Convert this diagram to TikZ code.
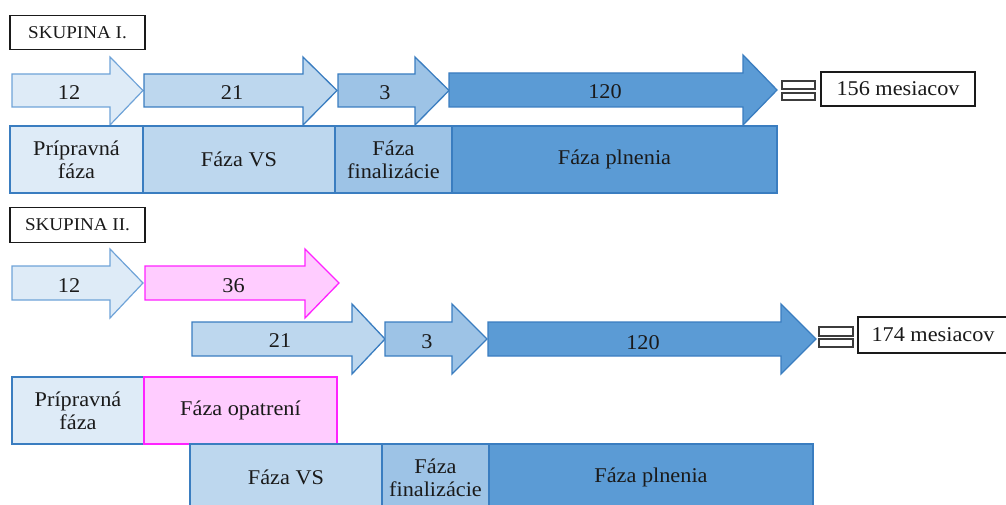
\documentclass[tikz,border=0pt]{standalone}
\usepackage{fontspec}
\setmainfont[FakeStretch=1.06]{Liberation Serif}
\definecolor{cA}{HTML}{DEEBF7}
\definecolor{cB}{HTML}{BDD7EE}
\definecolor{cC}{HTML}{9DC3E6}
\definecolor{cD}{HTML}{5B9BD5}
\definecolor{lineB}{HTML}{3A7DC0}
\definecolor{lineL}{HTML}{6FA3D8}
\definecolor{pinkF}{HTML}{FFCCFF}
\definecolor{pinkL}{HTML}{FF22FF}
\definecolor{txt}{HTML}{1A1A1A}
\newcommand\blockarr[8]{%
  \path[#1] (#2,#5) -- (#3,#5) -- (#3,#7) -- (#4,{(#5+#6)/2}) -- (#3,#8) -- (#3,#6) -- (#2,#6) -- cycle;}
\tikzset{
  arrA/.style={fill=cA,draw=lineL,line width=1.2pt,line join=miter},
  arrB/.style={fill=cB,draw=lineB,line width=1.3pt,line join=miter},
  arrC/.style={fill=cC,draw=lineB,line width=1.3pt,line join=miter},
  arrD/.style={fill=cD,draw=lineB,line width=1.3pt,line join=miter},
  arrP/.style={fill=pinkF,draw=pinkL,line width=1.3pt,line join=miter},
  lbl/.style={text=txt,inner sep=0pt,font=\fontsize{21}{23}\selectfont,align=center},
  bar/.style={draw=lineB,line width=1.3pt,text=txt,inner sep=0pt,font=\fontsize{21}{23}\selectfont,align=center},
  grp/.style={draw=txt,line width=1.8pt,fill=white,inner sep=0pt,text=txt,font=\fontsize{18}{21}\selectfont},
  total/.style={draw=txt,line width=1.4pt,fill=white,inner sep=0pt,text=txt,font=\fontsize{21}{23}\selectfont},
  eqbar/.style={draw=txt!85,line width=1.6pt,fill=white}
}
\begin{document}
\begin{tikzpicture}[x=1pt,y=-1pt]
\useasboundingbox (0,0) rectangle (1006,505);
\clip (0,0) rectangle (1006,505);
% ---------- Group I ----------
\node[grp,minimum width=135pt,minimum height=34pt] (s1) at (77.5,32.5) {SKUPINA I.};
\blockarr{arrA}{12}{110}{143}{74}{107}{57}{125}
\blockarr{arrB}{144}{303}{337}{74}{107}{57}{125}
\blockarr{arrC}{338}{415}{449}{74}{107}{57}{125}
\blockarr{arrD}{449}{743}{777}{73}{107}{55}{125}
\node[lbl] (g1a) at (69,93) {12};
\node[lbl] (g1b) at (232,93) {21};
\node[lbl] (g1c) at (385,93) {3};
\node[lbl] (g1d) at (605,92) {120};
\draw[eqbar] (782,81) rectangle (815,89);
\draw[eqbar] (782,93) rectangle (815,100);
\node[total,minimum width=154pt,minimum height=34pt] (t1) at (898,89) {156 mesiacov};
\node[bar,fill=cA,minimum width=133pt,minimum height=67pt] (g1p) at (76.5,159.5) {Prípravná\\fáza};
\node[bar,fill=cB,minimum width=192pt,minimum height=67pt] (g1v) at (239,159.5) {Fáza VS};
\node[bar,fill=cC,minimum width=117pt,minimum height=67pt] (g1f) at (393.5,159.5) {Fáza\\finalizácie};
\node[bar,fill=cD,minimum width=325pt,minimum height=67pt] (g1n) at (614.5,159.5) {Fáza plnenia};
% ---------- Group II ----------
\node[grp,minimum width=135pt,minimum height=35pt] (s2) at (77.5,225) {SKUPINA II.};
\blockarr{arrA}{12}{110}{143}{266}{300}{249}{318}
\blockarr{arrP}{145}{305}{339}{266}{300}{249}{318}
\blockarr{arrB}{192}{352}{385}{322}{356}{304}{374}
\blockarr{arrC}{385}{452}{487}{322}{356}{304}{374}
\blockarr{arrD}{488}{781}{816}{322}{356}{304}{374}
\node[lbl] (g2a) at (69,286) {12};
\node[lbl] (g2b) at (233.5,286) {36};
\node[lbl] (g2c) at (280,341) {21};
\node[lbl] (g2d) at (427,342) {3};
\node[lbl] (g2e) at (643,343) {120};
\draw[eqbar] (819,327) rectangle (853,336);
\draw[eqbar] (819,339) rectangle (853,347);
\node[total,minimum width=150pt,minimum height=36pt] (t2) at (933,335) {174 mesiacov};
\node[bar,fill=cA,minimum width=132pt,minimum height=67pt] (g2p) at (78,410.5) {Prípravná\\fáza};
\node[bar,fill=pinkF,draw=pinkL,minimum width=193pt,minimum height=67pt] (g2o) at (240.5,410.5) {Fáza opatrení};
\node[bar,fill=cB,minimum width=192pt,minimum height=67pt] (g2v) at (286,477.5) {Fáza VS};
\node[bar,fill=cC,minimum width=107pt,minimum height=67pt] (g2f) at (435.5,477.5) {Fáza\\finalizácie};
\node[bar,fill=cD,minimum width=324pt,minimum height=67pt] (g2n) at (651,477.5) {Fáza plnenia};
\end{tikzpicture}
\end{document}
